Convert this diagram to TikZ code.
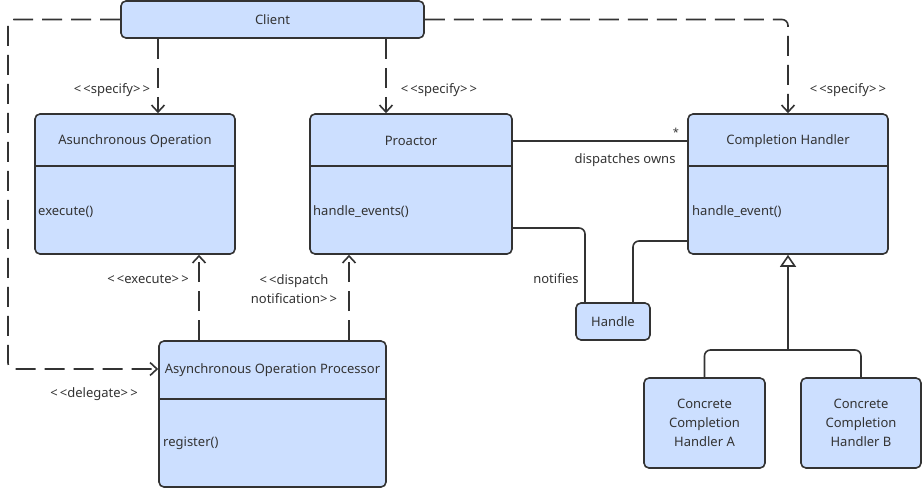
\documentclass[tikz,border=0pt]{standalone}
\usepackage{fontspec}
\setmainfont{Noto Sans}
\usetikzlibrary{arrows.meta}
\definecolor{boxfill}{HTML}{CCDFFF}
\definecolor{ink}{HTML}{333333}

\begin{document}
\begin{tikzpicture}[x=1pt,y=-1pt,
  every node/.style={text=ink,font=\fontsize{13}{19}\selectfont},
  cls/.style={draw=ink,fill=boxfill,line width=1.6pt,rounded corners=5pt,inner sep=0pt},
  rule/.style={draw=ink,line width=1.6pt},
  dep/.style={draw=ink,line width=1.6pt,dash pattern=on 20pt off 9pt,
    -{Straight Barb[length=7pt,width=13pt,line width=1.6pt]}},
  assoc/.style={draw=ink,line width=1.6pt,rounded corners=6pt},
  inh/.style={draw=ink,line width=1.6pt,-{Triangle[open,fill=white,length=12pt,width=16pt]}}]
  \useasboundingbox (0,0) rectangle (923,488);

  \node[cls,minimum width=303pt,minimum height=37pt] (client) at (272.5,19.5) {Client};

  \node[cls,minimum width=200pt,minimum height=140pt] (aop) at (135,184) {};
  \draw[rule] (aop.west |- 0,166) -- (aop.east |- 0,166);
  \node (aoptitle) at (135,141) {Asunchronous Operation};
  \node[anchor=west,inner sep=0pt] (aopops) at (38,212) {execute()};

  \node[cls,minimum width=202pt,minimum height=140pt] (pro) at (411,184) {};
  \draw[rule] (pro.west |- 0,166) -- (pro.east |- 0,166);
  \node (protitle) at (411,141) {Proactor};
  \node[anchor=west,inner sep=0pt] (proops) at (313,212) {handle\_events()};

  \node[cls,minimum width=200pt,minimum height=140pt] (ch) at (788,184) {};
  \draw[rule] (ch.west |- 0,166) -- (ch.east |- 0,166);
  \node (chtitle) at (788,141) {Completion Handler};
  \node[anchor=west,inner sep=0pt] (chops) at (692,212) {handle\_event()};

  \node[cls,minimum width=227pt,minimum height=146pt] (proc) at (272.5,414) {};
  \draw[rule] (proc.west |- 0,399) -- (proc.east |- 0,399);
  \node (proctitle) at (272.5,370) {Asynchronous Operation Processor};
  \node[anchor=west,inner sep=0pt] (procops) at (163,443) {register()};

  \node[cls,minimum width=74pt,minimum height=37pt] (handle) at (613,321.5) {Handle};

  \node[cls,minimum width=121pt,minimum height=90pt,align=center] (ca) at (704.5,423) {Concrete\\Completion\\Handler A};
  \node[cls,minimum width=120pt,minimum height=90pt,align=center] (cb) at (861,423) {Concrete\\Completion\\Handler B};

  \coordinate (delg) at (8,369);
  \coordinate (gen) at (ch.south |- 0,350);

  \draw[dep] (158,0 |- client.south) -- (158,0 |- aop.north);
  \draw[dep] (386,0 |- client.south) -- (386,0 |- pro.north);
  \draw[dep,rounded corners=6pt] (client.east) -| (ch.north);
  \draw[dep,rounded corners=6pt] (client.west) -| (delg) -- (delg -| proc.west);
  \draw[dep] (199,0 |- proc.north) -- (199,0 |- aop.south);
  \draw[dep] (349,0 |- proc.north) -- (349,0 |- pro.south);

  \draw[assoc] (pro.east |- 0,141) -- (ch.west |- 0,141);
  \draw[assoc] (pro.east |- 0,228) -| (585,0 |- handle.north);
  \draw[assoc] (ch.west |- 0,241) -| (633,0 |- handle.north);

  \draw[assoc] (ca.north) |- (gen) -| (cb.north);
  \draw[inh] (gen) -- (ch.south);

  \node (specaop) at (112,90) {<\,<specify>\,>};
  \node (specpro) at (439,90) {<\,<specify>\,>};
  \node (specch) at (848,90) {<\,<specify>\,>};
  \node (delglbl) at (94,394) {<\,<delegate>\,>};
  \node (execlbl) at (148,279) {<\,<execute>\,>};
  \node[align=center] (displbl) at (294,289) {<\,<dispatch\\notification>\,>};
  \node[font=\fontsize{11}{13}\selectfont] (mult) at (676,132) {*};
  \node[anchor=east] (ownslbl) at (679,160) {dispatches owns};
  \node (notelbl) at (556,279) {notifies};
\end{tikzpicture}
\end{document}
